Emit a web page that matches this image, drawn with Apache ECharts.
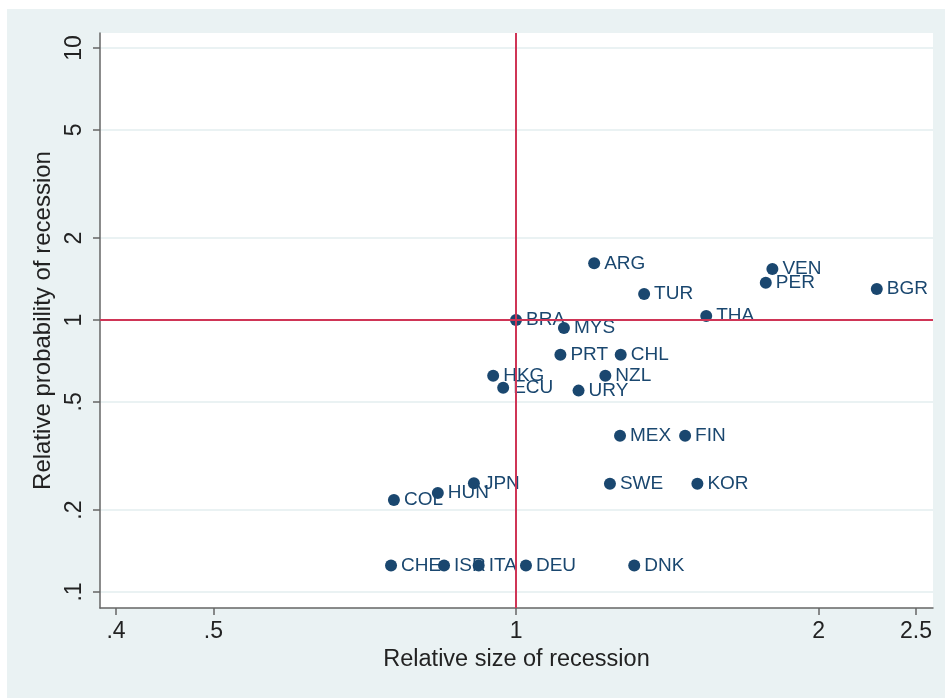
<!DOCTYPE html>
<html>
<head>
<meta charset="utf-8">
<script src="https://cdn.jsdelivr.net/npm/echarts@6/dist/echarts.min.js"></script>
<style>
  html, body { margin: 0; padding: 0; background: #ffffff; }
  #chart { width: 945px; height: 698px; }
</style>
</head>
<body>
<div id="chart"></div>
<script>
// Country codes with relative size (x) and relative probability (y) of recession
const countries = ['ARG','TUR','BRA','MYS','PRT','CHL','HKG','ECU','NZL','URY',
                   'MEX','FIN','JPN','HUN','COL','SWE','KOR','CHE','ISR','ITA',
                   'DEU','DNK','VEN','PER','BGR','THA'];
const relSize = [1.196, 1.341, 1.000, 1.116, 1.107, 1.271, 0.949, 0.971, 1.227, 1.154,
                 1.269, 1.473, 0.908, 0.836, 0.756, 1.240, 1.515, 0.751, 0.848, 0.918,
                 1.023, 1.311, 1.799, 1.772, 2.285, 1.546];
const relProb = [1.616, 1.246, 1.000, 0.935, 0.745, 0.745, 0.624, 0.564, 0.624, 0.550,
                 0.375, 0.375, 0.251, 0.231, 0.218, 0.250, 0.250, 0.125, 0.125, 0.125,
                 0.125, 0.125, 1.540, 1.371, 1.300, 1.034];

const xTicks = [0.4, 0.5, 1, 2, 2.5];
const yTicks = [0.1, 0.2, 0.5, 1, 2, 5, 10];
const xRange = [0.3856, 2.599];
const yRange = [0.0873, 11.36];
const refX = 1;   // reference line: relative size = 1
const refY = 1;   // reference line: relative probability = 1

const FONT = '"Liberation Sans", Arial, Helvetica, sans-serif';
const NAVY = '#1a476f';
const REF = '#cf3556';

// Stata-style number format: drop the leading zero (.4, .5)
function fmt(v) {
  const s = String(+Number(v).toPrecision(6));
  return s.replace(/^0\./, '.');
}

const points = countries.map((c, i) => ({ name: c, value: [relSize[i], relProb[i]] }));

const chart = echarts.init(document.getElementById('chart'), null, { renderer: 'canvas' });
chart.setOption({
  backgroundColor: '#ffffff',
  animation: false,
  graphic: [{
    type: 'rect', z: -10, silent: true,
    shape: { x: 7, y: 9, width: 938, height: 689 },
    style: { fill: '#eaf2f3' }
  }],
  grid: {
    left: 100, top: 33, right: 12, bottom: 90,
    show: true, backgroundColor: '#ffffff', borderWidth: 0
  },
  xAxis: {
    type: 'log', logBase: 10, min: xRange[0], max: xRange[1],
    name: 'Relative size of recession',
    nameLocation: 'middle', nameGap: 36,
    nameTextStyle: { fontFamily: FONT, fontSize: 23.5, color: '#222' },
    axisLine: { show: true, onZero: false, lineStyle: { color: '#666', width: 1.5 } },
    axisTick: { show: true, inside: false, length: 7, customValues: xTicks,
                lineStyle: { color: '#666', width: 1.5 } },
    axisLabel: { customValues: xTicks, formatter: fmt, margin: 12,
                 fontFamily: FONT, fontSize: 23, color: '#222' },
    splitLine: { show: false },
    minorTick: { show: false }
  },
  yAxis: {
    type: 'log', logBase: 10, min: yRange[0], max: yRange[1],
    name: 'Relative probability of recession',
    nameLocation: 'middle', nameGap: 43, nameRotate: 90,
    nameTextStyle: { fontFamily: FONT, fontSize: 24, color: '#222' },
    axisLine: { show: true, onZero: false, lineStyle: { color: '#666', width: 1.5 } },
    axisTick: { show: true, inside: false, length: 7, customValues: yTicks,
                lineStyle: { color: '#666', width: 1.5 } },
    axisLabel: { customValues: yTicks, formatter: fmt, rotate: 90, margin: 14,
                 fontFamily: FONT, fontSize: 23, color: '#222' },
    splitLine: { show: true, lineStyle: { color: '#eaf2f3', width: 2 } },
    minorTick: { show: false }
  },
  series: [{
    type: 'scatter',
    data: points,
    symbol: 'circle',
    symbolSize: 12,
    itemStyle: { color: NAVY, opacity: 1 },
    label: {
      show: true, position: 'right', distance: 4,
      formatter: p => p.name,
      fontFamily: FONT, fontSize: 19, color: NAVY
    },
    markLine: {
      silent: true, symbol: 'none', animation: false,
      label: { show: false },
      lineStyle: { color: REF, width: 2, type: 'solid' },
      data: [{ xAxis: refX }, { yAxis: refY }]
    }
  }]
});
</script>
</body>
</html>
